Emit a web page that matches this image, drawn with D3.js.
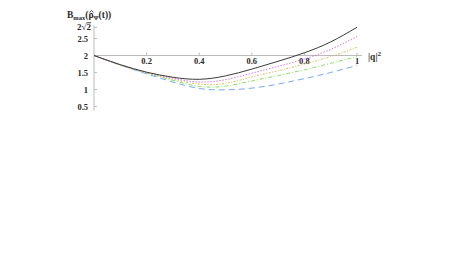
<!DOCTYPE html>
<html><head><meta charset="utf-8">
<script src="https://cdn.jsdelivr.net/npm/d3@7"></script>
<style>
body{margin:0;background:#fff;}
svg text{font-family:"Liberation Serif","DejaVu Serif",serif;fill:#2a2a2a;}
</style></head>
<body><svg id="c" width="450" height="273"></svg>
<script>
const qGrid = [0,0.1,0.2,0.3,0.4,0.5,0.6,0.7,0.8,0.9,1];
const seriesBlack   = [2,1.73,1.51,1.36,1.30,1.40,1.60,1.83,2.08,2.40,2.83];
const seriesMagenta = [2,1.73,1.50,1.33,1.22,1.29,1.48,1.68,1.90,2.18,2.56];
const seriesOrange  = [2,1.72,1.49,1.30,1.16,1.18,1.37,1.55,1.75,1.97,2.24];
const seriesGreen   = [2,1.72,1.48,1.27,1.09,1.10,1.25,1.41,1.58,1.77,1.97];
const seriesBlue    = [2,1.72,1.46,1.22,1.03,0.99,1.04,1.16,1.32,1.50,1.71];
const xTicks = [0.2,0.4,0.6,0.8,1];
const xTickLabels = ["0.2","0.4","0.6","0.8","1"];
const yTicks = [0.5,1,1.5,2,2.5];
const yTickLabels = ["0.5","1","1.5","2","2.5"];

const svg = d3.select("#c");
const x = d3.scaleLinear().domain([0,1]).range([94,357]);
const y = d3.scaleLinear().domain([0.5,2.5]).range([106.5,38.5]);

const axisCol = "#bbb";
svg.append("line").attr("x1",x(0)).attr("x2",362).attr("y1",y(2)).attr("y2",y(2))
  .attr("stroke",axisCol).attr("stroke-width",1);
svg.append("line").attr("x1",x(0)).attr("x2",x(0)).attr("y1",y(0.38)).attr("y2",y(2*Math.SQRT2)-2)
  .attr("stroke",axisCol).attr("stroke-width",1);

xTicks.forEach((t,i)=>{
  svg.append("line").attr("x1",x(t)).attr("x2",x(t)).attr("y1",y(2)).attr("y2",y(2)-3)
    .attr("stroke",axisCol);
  svg.append("text").attr("x",x(t)).attr("y",y(2)+8).attr("text-anchor","middle")
    .attr("font-size","8.5px").attr("font-weight","bold").text(xTickLabels[i]);
});
yTicks.forEach((t,i)=>{
  svg.append("line").attr("x1",x(0)).attr("x2",x(0)+3).attr("y1",y(t)).attr("y2",y(t))
    .attr("stroke",axisCol);
  svg.append("text").attr("x",88).attr("y",y(t)+3).attr("text-anchor","end")
    .attr("font-size","8.5px").attr("font-weight","bold").text(yTickLabels[i]);
});
svg.append("line").attr("x1",x(0)).attr("x2",x(0)+3).attr("y1",y(2*Math.SQRT2)).attr("y2",y(2*Math.SQRT2))
  .attr("stroke",axisCol);
const r2 = svg.append("text").attr("x",91).attr("y",y(2*Math.SQRT2)+3).attr("text-anchor","end")
  .attr("font-size","9px").attr("font-weight","bold");
r2.append("tspan").text("2\u221A");
r2.append("tspan").attr("text-decoration","overline").text("2");

const xl = svg.append("text").attr("x",368).attr("y",y(2)+4).attr("font-size","9.5px").attr("font-weight","bold");
xl.append("tspan").text("|q|");
xl.append("tspan").attr("dy",-4).attr("font-size","7px").text("2");

// title
const tt = svg.append("text").attr("x",67).attr("y",18).attr("font-size","9.5px").attr("font-weight","bold");
tt.append("tspan").text("B");
tt.append("tspan").attr("dy",2).attr("font-size","6.5px").text("max");
tt.append("tspan").attr("dy",-2).text("(");
const rho = tt.append("tspan").text("\u03C1");
tt.append("tspan").attr("dy",2).attr("font-size","6.5px").text("\u03A8");
tt.append("tspan").attr("dy",-2).text("(t))");
// hat over rho, drawn as a small chevron
const rn = rho.node();
const s0 = rn.getStartPositionOfChar(0), e0 = rn.getEndPositionOfChar(0);
const cx = (s0.x+e0.x)/2 + 0.5;
svg.append("path").attr("d",`M${cx-2},${12.5}L${cx},${10.5}L${cx+2},${12.5}`)
  .attr("fill","none").attr("stroke","#2a2a2a").attr("stroke-width",0.8);

const series = [
  {v:seriesBlue,    c:"#79aaf0", d:"6,4"},
  {v:seriesGreen,   c:"#86e060", d:"4,2,1,2"},
  {v:seriesOrange,  c:"#d8c060", d:"2,1.5,1,1.5"},
  {v:seriesMagenta, c:"#d878e8", d:"1.5,1.5"},
  {v:seriesBlack,   c:"#3a3a3a", d:null}
];
const line = d3.line().x((d,i)=>x(qGrid[i])).y(d=>y(d)).curve(d3.curveNatural);
series.forEach(s=>{
  const p = svg.append("path").datum(s.v).attr("d",line).attr("fill","none")
    .attr("stroke",s.c).attr("stroke-width",1);
  if(s.d) p.attr("stroke-dasharray",s.d);
});
</script></body></html>
